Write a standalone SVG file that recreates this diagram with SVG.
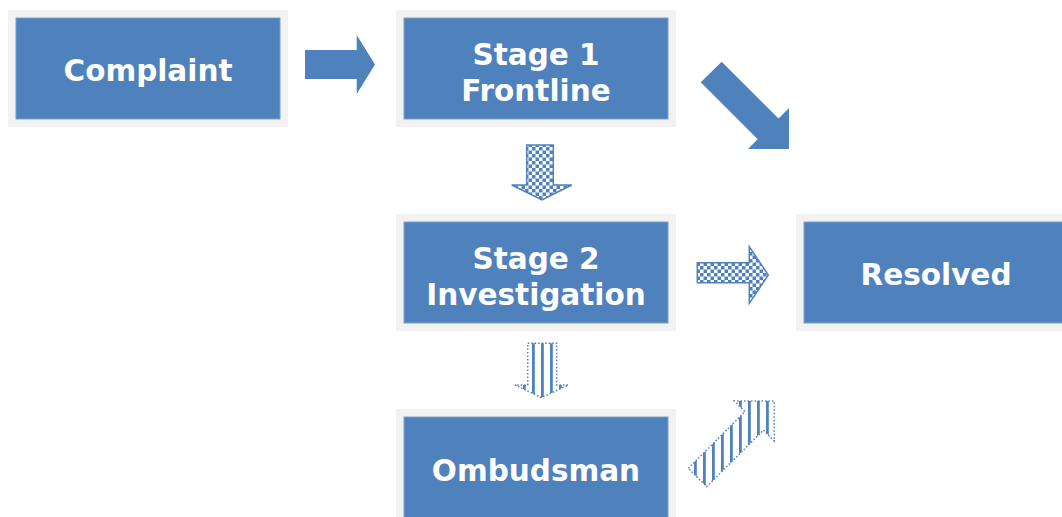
<svg xmlns="http://www.w3.org/2000/svg" width="1062" height="517" viewBox="0 0 1062 517">
<style>
.outer{fill:#F2F2F2}
.inner{fill:#4F81BD;stroke:#7DA0CC;stroke-width:1}
.lbl{font-family:"DejaVu Sans",Verdana,sans-serif;font-weight:bold;font-size:29.5px;fill:#FFFFFF;text-anchor:middle}
.solid{fill:#4F81BD}
.check{fill:url(#checker);stroke:#4F81BD;stroke-width:1.5}
.stripe{fill:url(#stripes);stroke:#4F81BD;stroke-width:1.5;stroke-dasharray:1.5 2}
</style>
<defs>
<pattern id="checker" patternUnits="userSpaceOnUse" width="7" height="7">
<rect width="7" height="7" fill="#FFFFFF"/>
<rect x="0" y="0" width="3.5" height="3.5" fill="#4F81BD"/>
<rect x="3.5" y="3.5" width="3.5" height="3.5" fill="#4F81BD"/>
</pattern>
<pattern id="stripes" patternUnits="userSpaceOnUse" width="9" height="9" x="1">
<rect width="9" height="9" fill="#FFFFFF"/>
<rect x="0" y="0" width="2.8" height="9" fill="#4F81BD"/>
</pattern>
</defs>
<rect width="1062" height="517" fill="#FFFFFF"/>
<g id="complaint">
<rect class="outer" x="8" y="10" width="280" height="117"/>
<rect class="inner" x="16" y="18" width="264" height="101"/>
<text class="lbl" x="148" y="81">Complaint</text>
</g>
<g id="stage1">
<rect class="outer" x="396" y="10" width="280" height="117"/>
<rect class="inner" x="404" y="18" width="264" height="101"/>
<text class="lbl" x="536" y="65">Stage 1</text>
<text class="lbl" x="536" y="101">Frontline</text>
</g>
<g id="stage2">
<rect class="outer" x="396" y="214" width="280" height="117"/>
<rect class="inner" x="404" y="222" width="264" height="101"/>
<text class="lbl" x="536" y="269">Stage 2</text>
<text class="lbl" x="536" y="305">Investigation</text>
</g>
<g id="resolved">
<rect class="outer" x="796" y="214" width="290" height="117"/>
<rect class="inner" x="804" y="222" width="280" height="101"/>
<text class="lbl" x="936" y="285">Resolved</text>
</g>
<g id="ombudsman">
<rect class="outer" x="396" y="409" width="280" height="120"/>
<rect class="inner" x="404" y="417" width="264" height="110"/>
<text class="lbl" x="536" y="481">Ombudsman</text>
</g>
<g id="connectors">
<polygon class="solid" points="305,50 356.7,50 356.7,35 375,64.5 356.7,94 356.7,79 305,79"/>
<polygon class="solid" points="700.7,82.3 721.7,61.7 778.5,118.5 789,108 789,149 748,149 757.7,139.3"/>
<polygon class="check" points="526.7,145 553.3,145 553.3,185 571.7,185 542,200 511.7,185 526.7,185"/>
<polygon class="check" points="697.3,262.7 749.3,262.7 749.3,246.7 768.3,275 749.3,303.3 749.3,282.7 697.3,282.7"/>
<polygon class="stripe" points="527.7,343.3 556.7,343.3 556.7,385 568.3,385 541.5,397.7 515,385 527.7,385"/>
<polygon class="stripe" points="688.3,468.3 745,411.7 734.3,401 774.3,401 774.3,441 763.4,430.1 706.7,486.7"/>
</g>
</svg>
